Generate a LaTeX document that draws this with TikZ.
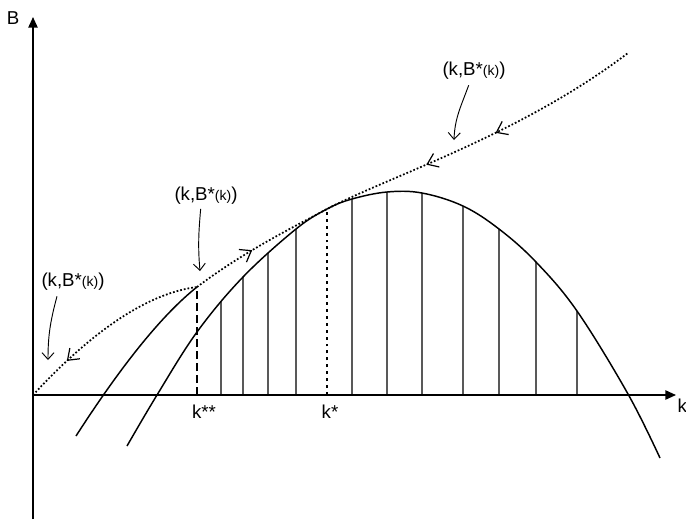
\documentclass[tikz,border=0pt]{standalone}
\usepackage{fontspec}
\setmainfont{Liberation Sans}
\usetikzlibrary{arrows.meta,decorations.markings,intersections}
\newcommand{\kBk}{(k,B*{\fontsize{10.5}{12}\selectfont(k)})}
\tikzset{flowtip/.tip={Straight Barb[length=7.5pt,width=11pt,line width=0.9pt]}}

\begin{document}
\begin{tikzpicture}[x=0.75pt,y=-0.75pt,
    every node/.style={font=\fontsize{14}{17}\selectfont,inner sep=1pt},
    axis/.style={line width=1.1pt,-{Triangle[length=8pt,width=7pt]}},
    curve/.style={line width=1.1pt},
    hatch/.style={line width=0.85pt,black},
    saddle/.style={line width=1.3pt,dash pattern=on 1.3pt off 1.5pt},
    pointer/.style={line width=0.7pt,-{Straight Barb[length=5pt,width=9pt]}}]
    \useasboundingbox (0,0) rectangle (686,519);
    \coordinate (O) at (33,395);
    \coordinate (bot) at (33,519);
    \coordinate (Btip) at (33,17);
    \coordinate (ktip) at (676,395);
    \coordinate (kss) at (197,287);
    \coordinate (kst) at (327,209);
    \coordinate (end) at (628,53);
    \coordinate (tip1) at (48,360);
    \coordinate (tip2) at (200,271);
    \coordinate (tip3) at (454,140);

    \draw[axis] (bot) -- (Btip);
    \draw[axis] (O) -- (ktip);
    \node (B) at (13,18) {B};
    \node (k) [anchor=west] at (676,406) {k};

    \draw[curve,name path=big] plot[smooth,tension=0.6] coordinates {(127,446) (157,395) (197,332) (243,277) (296,229) (327,209) (352,199) (387,192) (422,193) (463,206) (499,229) (536,262) (577,311) (628,394) (660,458)};
    \draw[curve] (76,436) .. controls (123,363) and (163,314) .. (kss);

    \foreach \x in {221,243,268,296,352,387,422,463,499,536,577} {
      \path[name path=vl] (\x,396) -- (\x,150);
      \draw[hatch,name intersections={of=big and vl,by=top}] (\x,395) -- (top);
    }
    \draw[line width=1.5pt,dash pattern=on 6pt off 3pt] (197,395) -- (kss);
    \draw[line width=1.5pt,dash pattern=on 2.2pt off 3pt] (327,395) -- (kst);

    \draw[saddle,decoration={markings,mark=at position 0.24 with {\arrowreversed{flowtip}}},postaction={decorate}]
      (O) .. controls (94,329) and (149,293) .. (kss);
    \draw[saddle,decoration={markings,
        mark=at position 0.135 with {\arrow{flowtip}},
        mark=at position 0.53 with {\arrowreversed{flowtip}},
        mark=at position 0.685 with {\arrowreversed{flowtip}}},postaction={decorate}]
      (kss) .. controls (245,251) and (290,229) .. (kst) .. controls (390,176) and (520,135) .. (end);

    \node (kstar2) at (204,412) {k**};
    \node (kstar) at (330,412) {k*};

    \node (lab1) at (73,282) {\kBk};
    \node (lab2) at (206,196) {\kBk};
    \node (lab3) at (474,71) {\kBk};
    \draw[pointer] ([xshift=-12pt,yshift=-3pt]lab1.south) to[out=-105,in=90] (tip1);
    \draw[pointer] ([xshift=-4pt,yshift=-2pt]lab2.south) to[out=-95,in=95] (tip2);
    \draw[pointer] ([xshift=-4pt,yshift=-3pt]lab3.south) to[out=-110,in=88] (tip3);
\end{tikzpicture}
\end{document}
